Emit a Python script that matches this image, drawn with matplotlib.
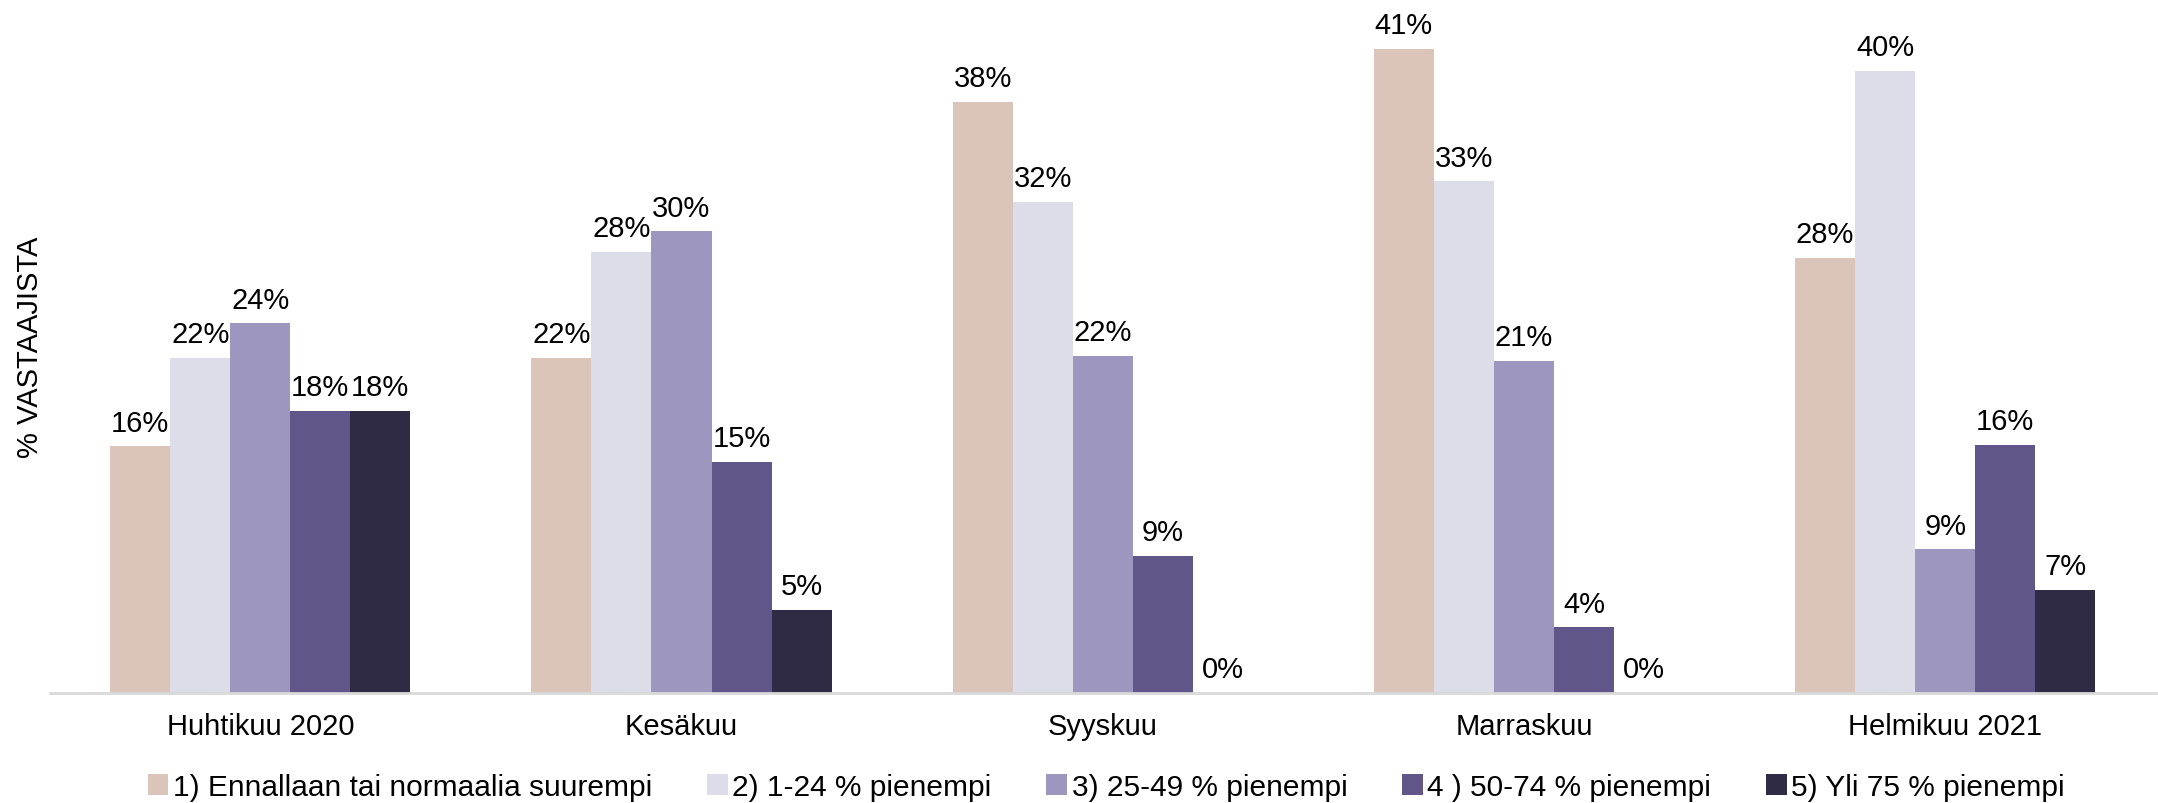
import numpy as np
import matplotlib
matplotlib.use("Agg")
from matplotlib import pyplot as plt

plt.rcParams['font.family'] = ['Liberation Sans', 'DejaVu Sans']

# data
categories = ['Huhtikuu 2020', 'Kesäkuu', 'Syyskuu', 'Marraskuu', 'Helmikuu 2021']
series_names = ['1) Ennallaan tai normaalia suurempi', '2) 1-24 % pienempi',
                '3) 25-49 % pienempi', '4 ) 50-74 % pienempi', '5) Yli 75 % pienempi']
s1 = [15.8, 21.5, 37.9, 41.3, 27.9]
s2 = [21.5, 28.3, 31.5, 32.8, 39.9]
s3 = [23.7, 29.6, 21.6, 21.3, 9.2]
s4 = [18.1, 14.8, 8.8, 4.2, 15.9]
s5 = [18.1, 5.3, 0.0, 0.0, 6.6]
series = [s1, s2, s3, s4, s5]
colors = ['#dbc4b9', '#dddce9', '#9d96be', '#605689', '#2f2b44']

fs = 21

fig = plt.figure(figsize=(21.58, 8.04), dpi=100)
ax = fig.add_axes([0.023, 0.137, 0.976, 0.863])

x = np.arange(len(categories))
w = 0.1425
for i, (vals, name, c) in enumerate(zip(series, series_names, colors)):
    pos = x + (i - 2) * w
    bars = ax.bar(pos, vals, width=w, color=c, label=name, zorder=2)
    for b, v in zip(bars, vals):
        ax.annotate('%d%%' % round(v), (b.get_x() + b.get_width() / 2, v),
                    xytext=(0, 7), textcoords='offset points',
                    ha='center', va='bottom', fontsize=fs, color='black')

ax.set_xlim(-0.5, len(categories) - 0.5)
ax.set_ylim(0, 44.5)
ax.set_xticks(x)
ax.set_xticklabels(categories, fontsize=fs)
ax.tick_params(axis='x', length=0, pad=14)
ax.set_yticks([])
for s in ['top', 'right', 'left']:
    ax.spines[s].set_visible(False)
ax.spines['bottom'].set_color('#d9d9d9')
ax.spines['bottom'].set_linewidth(2)

fig.text(30 / 2158, 0.137 + 0.863 / 2, '% VASTAAJISTA', rotation=90,
         ha='center', va='center', fontsize=fs)

fig.legend(loc='center', bbox_to_anchor=(0.5126, 0.02), ncol=5, frameon=False,
           fontsize=21.5, handlelength=0.7, handleheight=0.75, handletextpad=0.15,
           columnspacing=1.83)

fig.savefig('out.png', dpi=100)
